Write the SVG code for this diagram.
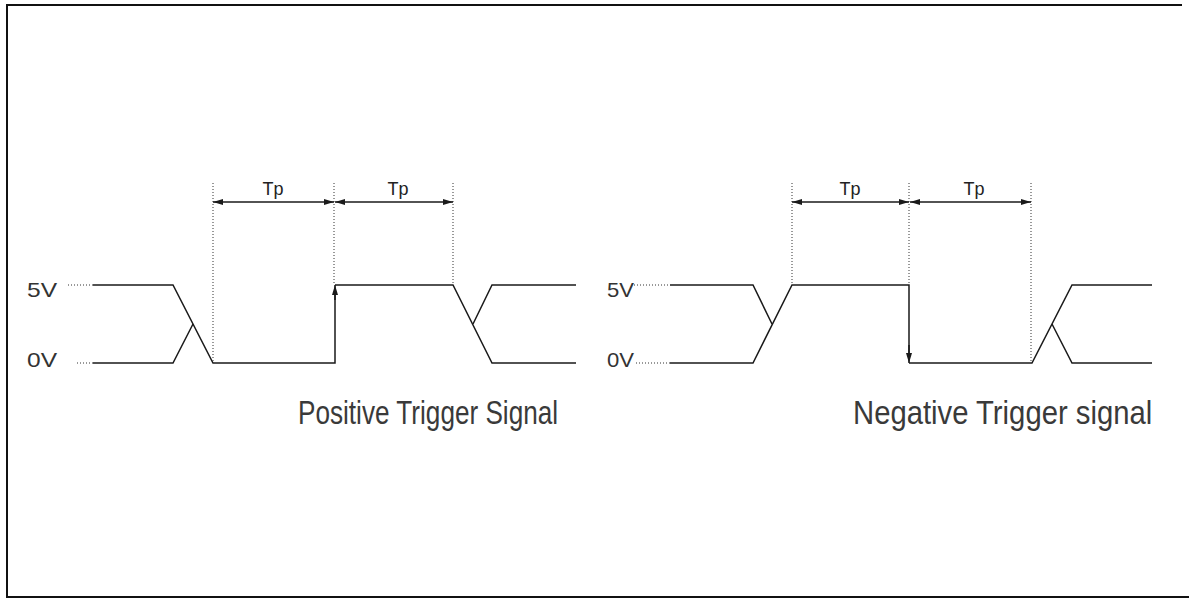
<svg xmlns="http://www.w3.org/2000/svg" width="1189" height="599" viewBox="0 0 1189 599">
  <style>
    .bg { fill: #ffffff; }
    .frame { stroke: #111; stroke-width: 2; fill: none; }
    .wave { stroke: #1a1a1a; stroke-width: 1.5; fill: none; stroke-linejoin: miter; }
    .dot { stroke: #333; stroke-width: 1; stroke-dasharray: 1 2; fill: none; }
    .dim { stroke: #1a1a1a; stroke-width: 1.3; fill: none; }
    .lvl { font-family: "Liberation Sans", Arial, sans-serif; font-size: 21px; fill: #333; }
    .tp { font-family: "Liberation Sans", Arial, sans-serif; font-size: 18px; fill: #222; }
    .title { font-family: "Liberation Sans", Arial, sans-serif; font-size: 34px; fill: #3a3a3a; }
  </style>
  <defs>
    <marker id="ah" viewBox="0 0 10 6" markerWidth="10" markerHeight="6" refX="10" refY="3" orient="auto-start-reverse" markerUnits="userSpaceOnUse">
      <path d="M0,0 L10,3 L0,6 z" fill="#1a1a1a"/>
    </marker>
  </defs>
  <rect class="bg" x="0" y="0" width="1189" height="599"/>

  <g id="frame">
    <path class="frame" d="M1182,5 L7,5 L7,597 L1189,597"/>
  </g>

  <g id="positive-trigger">
    <text class="lvl" x="27" y="297" textLength="30" lengthAdjust="spacingAndGlyphs">5V</text>
    <text class="lvl" x="27" y="367" textLength="30" lengthAdjust="spacingAndGlyphs">0V</text>
    <line class="dot" x1="68" y1="285" x2="93" y2="285"/>
    <line class="dot" x1="77" y1="363" x2="93" y2="363"/>
    <path class="wave" d="M93,285 L173,285 L213,363 L335,363 L335,290"/>
    <path class="wave" d="M93,363 L173,363 L193,324"/>
    <path class="wave" d="M335,285 L453,285 L492,363 L576,363"/>
    <path class="wave" d="M473,324 L492,285 L576,285"/>
    <text class="tp" x="273" y="195" text-anchor="middle">Tp</text>
    <text class="tp" x="398" y="195" text-anchor="middle">Tp</text>
    <text class="title" transform="translate(298,424) scale(0.765,1)" x="0" y="0" textLength="340" lengthAdjust="spacingAndGlyphs">Positive Trigger Signal</text>
  </g>

  <g id="negative-trigger">
    <text class="lvl" x="607" y="297" textLength="27" lengthAdjust="spacingAndGlyphs">5V</text>
    <text class="lvl" x="607" y="367" textLength="27" lengthAdjust="spacingAndGlyphs">0V</text>
    <line class="dot" x1="634" y1="285" x2="670" y2="285"/>
    <line class="dot" x1="636" y1="363" x2="670" y2="363"/>
    <path class="wave" d="M670,285 L753,285 L772,324"/>
    <path class="wave" d="M670,363 L753,363 L792,285 L909,285 L909,358"/>
    <path class="wave" d="M909,363 L1032,363 L1072,285 L1152,285"/>
    <path class="wave" d="M1052,324 L1072,363 L1152,363"/>
    <text class="tp" x="850" y="195" text-anchor="middle">Tp</text>
    <text class="tp" x="974" y="195" text-anchor="middle">Tp</text>
    <text class="title" transform="translate(853,424) scale(0.855,1)" x="0" y="0" textLength="350" lengthAdjust="spacingAndGlyphs">Negative Trigger signal</text>
  </g>

  <g id="connectors">
    <line class="dot" x1="213" y1="183" x2="213" y2="363"/>
    <line class="dot" x1="334" y1="183" x2="334" y2="285"/>
    <line class="dot" x1="453" y1="183" x2="453" y2="285"/>
    <line class="dot" x1="792" y1="183" x2="792" y2="285"/>
    <line class="dot" x1="909" y1="183" x2="909" y2="285"/>
    <line class="dot" x1="1031" y1="183" x2="1031" y2="363"/>
    <line class="dim" x1="213" y1="202" x2="334" y2="202" marker-start="url(#ah)" marker-end="url(#ah)"/>
    <line class="dim" x1="335" y1="202" x2="453" y2="202" marker-start="url(#ah)" marker-end="url(#ah)"/>
    <line class="dim" x1="792" y1="202" x2="909" y2="202" marker-start="url(#ah)" marker-end="url(#ah)"/>
    <line class="dim" x1="910" y1="202" x2="1031" y2="202" marker-start="url(#ah)" marker-end="url(#ah)"/>
    <line class="wave" x1="335" y1="300" x2="335" y2="285" marker-end="url(#ah)"/>
    <line class="wave" x1="909" y1="345" x2="909" y2="363" marker-end="url(#ah)"/>
  </g>
</svg>
